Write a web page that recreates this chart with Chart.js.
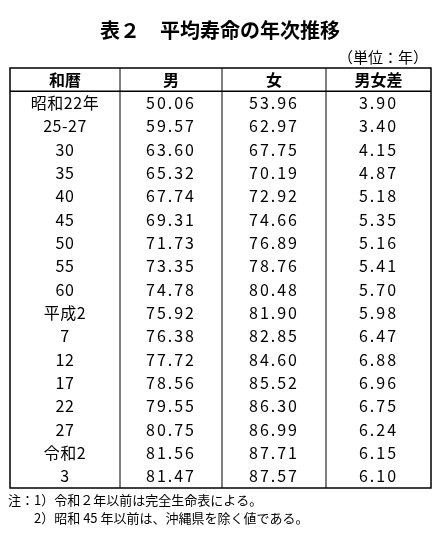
<!DOCTYPE html>
<html><head><meta charset="utf-8">
<script src="https://cdn.jsdelivr.net/npm/chart.js@4"></script>
<style>html,body{margin:0;padding:0;background:#fff}canvas{display:block}</style>
</head><body>
<div style="width:441px;height:540px"><canvas id="c"></canvas></div>
<script>
const headers = ["和暦","男","女","男女差"];
const eras = ["昭和22年","25-27","30","35","40","45","50","55","60","平成2","7","12","17","22","27","令和2","3"];
const male = [50.06,59.57,63.60,65.32,67.74,69.31,71.73,73.35,74.78,75.92,76.38,77.72,78.56,79.55,80.75,81.56,81.47];
const female = [53.96,62.97,67.75,70.19,72.92,74.66,76.89,78.76,80.48,81.90,82.85,84.60,85.52,86.30,86.99,87.71,87.57];
const diff = [3.90,3.40,4.15,4.87,5.18,5.35,5.16,5.41,5.70,5.98,6.47,6.88,6.96,6.75,6.24,6.15,6.10];
const colEdges = [0,110,212,316,421];
const FONT = '"Noto Sans CJK JP","Noto Sans",sans-serif';

const tablePlugin = {
  id:'table',
  afterDraw(chart){
    const ctx = chart.ctx, xs = chart.scales.x, ys = chart.scales.y;
    const X = v=>xs.getPixelForValue(v), Y = v=>ys.getPixelForValue(v);
    const nRows = eras.length + 1;
    ctx.save();
    ctx.fillStyle='#000'; ctx.textAlign='center'; ctx.textBaseline='middle';
    ctx.font='bold 20px '+FONT; ctx.fillText('表２　平均寿命の年次推移', 220, 30);
    ctx.font='15px '+FONT; ctx.textAlign='right'; ctx.fillText('（単位：年）', 428, 57);
    ctx.strokeStyle='#000'; ctx.lineWidth=1.5;
    ctx.strokeRect(X(0), Y(0), X(421)-X(0), Y(nRows)-Y(0));
    ctx.lineWidth=1;
    for(let i=1;i<colEdges.length-1;i++){ctx.beginPath();ctx.moveTo(X(colEdges[i]),Y(0));ctx.lineTo(X(colEdges[i]),Y(nRows));ctx.stroke();}
    ctx.lineWidth=1.5;
    ctx.beginPath();ctx.moveTo(X(0),Y(1));ctx.lineTo(X(421),Y(1));ctx.stroke();
    ctx.textAlign='center';
    const cx = i=>X((colEdges[i]+colEdges[i+1])/2);
    ctx.font='bold 16px '+FONT;
    headers.forEach((h,i)=>ctx.fillText(h,cx(i),Y(0.5)));
    ctx.font='16px '+FONT;
    eras.forEach((e,r)=>{
      const y=Y(r+1.5);
      ctx.letterSpacing='0.5px';
      ctx.fillText(e,cx(0),y);
      ctx.letterSpacing='2px';
      ctx.fillText(male[r].toFixed(2),cx(1),y);
      ctx.fillText(female[r].toFixed(2),cx(2),y);
      ctx.fillText(diff[r].toFixed(2),cx(3),y);
    });
    ctx.letterSpacing='0px';
    ctx.textAlign='left'; ctx.font='13px '+FONT;
    ctx.fillText('注：1）令和２年以前は完全生命表による。', 8, 500);
    ctx.fillText('　　2）昭和 45 年以前は、沖縄県を除く値である。', 8, 518);
    ctx.restore();
  }
};

new Chart(document.getElementById('c'),{
  type:'scatter',
  data:{datasets:[{data:[],pointRadius:0}]},
  options:{
    responsive:true, maintainAspectRatio:false, animation:false,
    layout:{padding:{top:68,left:10,right:10,bottom:52}},
    plugins:{legend:{display:false},tooltip:{enabled:false}},
    scales:{
      x:{type:'linear',min:0,max:421,display:false},
      y:{type:'linear',min:0,max:eras.length+1,reverse:true,display:false}
    }
  },
  plugins:[tablePlugin]
});
</script>
</body></html>
